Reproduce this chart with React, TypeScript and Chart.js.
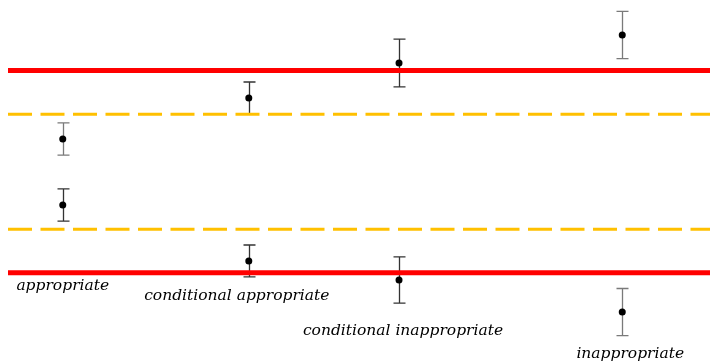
import React, { useEffect, useRef } from "react";
import { Chart, registerables } from "chart.js";

Chart.register(...registerables);

// Data
const categories = [
  "appropriate",
  "conditional appropriate",
  "conditional inappropriate",
  "inappropriate",
];
const xPositions = [7.8, 34.3, 55.7, 87.5];
const upperMeans = [0.322, 0.728, 1.074, 1.351];
const upperErrors = [0.16, 0.158, 0.237, 0.233];
const lowerMeans = [-0.33, -0.884, -1.072, -1.389];
const lowerErrors = [0.16, 0.158, 0.228, 0.233];
const redThresholds = [1, -1];
const orangeThresholds = [0.568, -0.571];

// Styling
const upperBarColors = ["#7a7a7a", "#333333", "#333333", "#7a7a7a"];
const lowerBarColors = ["#333333", "#333333", "#333333", "#7a7a7a"];
const labelLayout = [
  { dx: 0, y: 290 },
  { dx: -12, y: 300 },
  { dx: 4, y: 335 },
  { dx: 8, y: 358 },
];

const errorBarPlugin = {
  id: "errorBars",
  beforeDatasetsDraw(chart: any) {
    const { ctx, scales } = chart;
    const xs = scales.x;
    const ys = scales.y;
    const draw = (x: number, m: number, e: number, color: string) => {
      const px = Math.round(xs.getPixelForValue(x)) + 0.5;
      const top = ys.getPixelForValue(m + e);
      const bot = ys.getPixelForValue(m - e);
      ctx.save();
      ctx.strokeStyle = color;
      ctx.lineWidth = 1.3;
      ctx.beginPath();
      ctx.moveTo(px, top);
      ctx.lineTo(px, bot);
      ctx.moveTo(px - 6, top);
      ctx.lineTo(px + 6, top);
      ctx.moveTo(px - 6, bot);
      ctx.lineTo(px + 6, bot);
      ctx.stroke();
      ctx.restore();
    };
    xPositions.forEach((x, i) => {
      draw(x, upperMeans[i], upperErrors[i], upperBarColors[i]);
      draw(x, lowerMeans[i], lowerErrors[i], lowerBarColors[i]);
    });
  },
  afterDraw(chart: any) {
    const { ctx, scales } = chart;
    ctx.save();
    ctx.font = "italic 15.5px 'DejaVu Serif'";
    ctx.fillStyle = "#000";
    ctx.textAlign = "center";
    ctx.textBaseline = "alphabetic";
    categories.forEach((c, i) => {
      const px = scales.x.getPixelForValue(xPositions[i]) + labelLayout[i].dx;
      ctx.fillText(c, px, labelLayout[i].y);
    });
    ctx.restore();
  },
};

export default function App() {
  const ref = useRef<HTMLCanvasElement>(null);
  useEffect(() => {
    if (!ref.current) return;
    const hline = (y: number) => [
      { x: 0, y },
      { x: 100, y },
    ];
    const datasets: any[] = [
      ...redThresholds.map((y) => ({
        type: "line",
        data: hline(y),
        borderColor: "#ff0000",
        borderWidth: 5,
        pointRadius: 0,
        borderCapStyle: "butt",
      })),
      ...orangeThresholds.map((y) => ({
        type: "line",
        data: hline(y),
        borderColor: "#ffc000",
        borderWidth: 3,
        borderDash: [24, 8.5],
        pointRadius: 0,
        borderCapStyle: "butt",
      })),
      {
        type: "scatter",
        data: xPositions.flatMap((x, i) => [
          { x, y: upperMeans[i] },
          { x, y: lowerMeans[i] },
        ]),
        backgroundColor: "#000",
        borderColor: "#000",
        pointRadius: 3.5,
        borderWidth: 0,
        showLine: false,
      },
    ];
    const chart = new Chart(ref.current, {
      type: "scatter",
      data: { datasets },
      options: {
        animation: false,
        responsive: false,
        devicePixelRatio: 1,
        layout: { autoPadding: false, padding: { left: 8, right: 0, top: 0, bottom: 0 } },
        plugins: { legend: { display: false }, tooltip: { enabled: false } },
        scales: {
          x: { type: "linear", min: 0, max: 100, display: false },
          y: { type: "linear", min: -1.883, max: 1.697, display: false },
        },
      },
      plugins: [errorBarPlugin],
    } as any);
    return () => chart.destroy();
  }, []);
  return (
    <div style={{ position: "absolute", left: 0, top: 0, width: 710, height: 362, background: "#fff" }}>
      <canvas ref={ref} width={710} height={362} style={{ display: "block" }} />
    </div>
  );
}
